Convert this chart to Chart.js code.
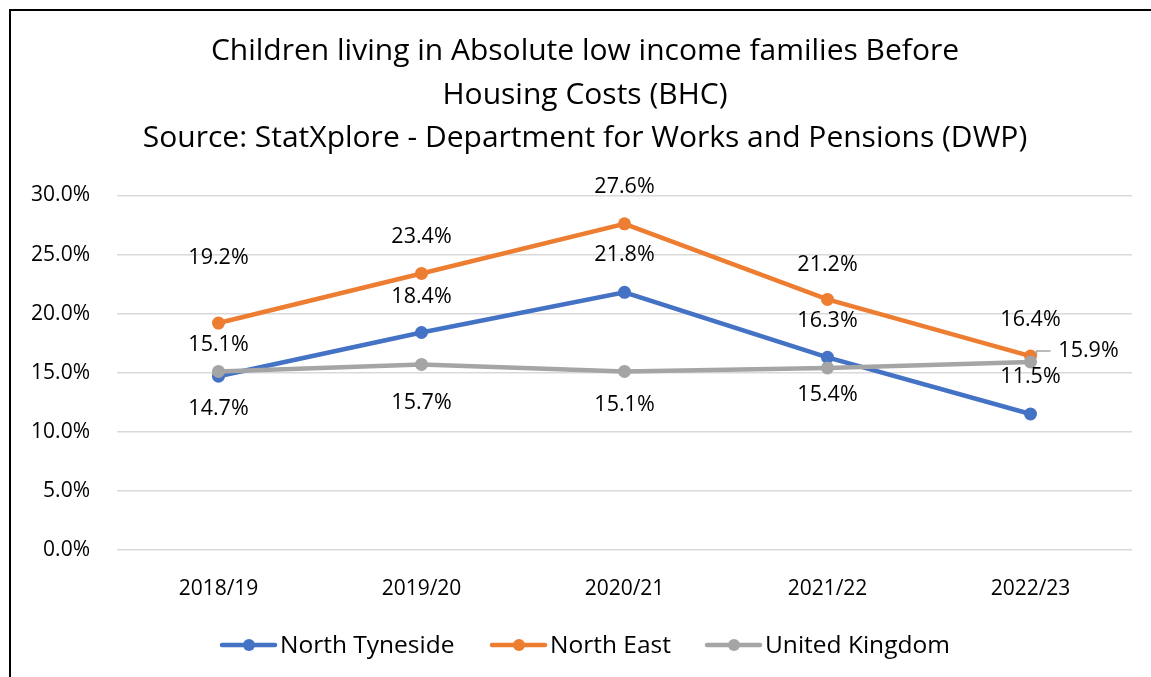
<!DOCTYPE html>
<html>
<head>
<meta charset="utf-8">
<script src="https://cdn.jsdelivr.net/npm/chart.js@4"></script>
<style>
  html, body { margin: 0; padding: 0; background: #fff; overflow: hidden; }
  #frame { position: absolute; left: 9px; top: 9px; width: 1200px; height: 720px; border: 2px solid #000; box-sizing: border-box; }
  #wrap { position: absolute; left: 0; top: 0; width: 1151px; height: 677px; }
</style>
</head>
<body>
<div id="frame"></div>
<div id="wrap"><canvas id="lowIncomeChart" width="1151" height="677"></canvas></div>
<script>
// 데이터
const years = ['2018/19', '2019/20', '2020/21', '2021/22', '2022/23'];
const northTyneside = [14.7, 18.4, 21.8, 16.3, 11.5];
const northEast = [19.2, 23.4, 27.6, 21.2, 16.4];
const unitedKingdom = [15.1, 15.7, 15.1, 15.4, 15.9];
const yTicks = [0, 5, 10, 15, 20, 25, 30];

const FONT = "'Open Sans', 'Noto Sans', sans-serif";

// 라벨 위치 (px offset from point)
const labelOffsets = [
    [[0, 33], [0, -36], [0, -37], [0, -36], [0, -37]],
    [[0, -65], [0, -37], [0, -37], [0, -35], [0, -36]],
    [[0, -27], [0, 38], [0, 33], [0, 27], [58, -11]]
];

// 제목 위치 보정 (가운데 정렬 기준 이동)
const titleShift = {
    id: 'titleShift',
    afterLayout(chart) {
        if (chart.titleBlock) {
            chart.titleBlock.left += 19;
            chart.titleBlock.right += 19;
        }
    }
};

// 데이터 라벨 플러그인
const pointLabels = {
    id: 'pointLabels',
    afterDatasetsDraw(chart) {
        const ctx = chart.ctx;
        ctx.save();
        ctx.font = '21.5px ' + FONT;
        ctx.fillStyle = '#000';
        ctx.textAlign = 'center';
        ctx.textBaseline = 'middle';
        chart.data.datasets.forEach((ds, i) => {
            chart.getDatasetMeta(i).data.forEach((pt, j) => {
                const off = labelOffsets[i][j];
                const x = pt.x + off[0];
                const y = pt.y + off[1];
                if (i === 2 && j === 4) {
                    // 지시선
                    ctx.strokeStyle = '#A5A5A5';
                    ctx.lineWidth = 1.5;
                    ctx.beginPath();
                    ctx.moveTo(pt.x + 20, y);
                    ctx.lineTo(pt.x + 6, y);
                    ctx.lineTo(pt.x + 6, pt.y - 6);
                    ctx.stroke();
                }
                ctx.fillText(ds.data[j].toFixed(1) + '%', x, y);
            });
        });
        ctx.restore();
    }
};

// 범례 플러그인
const lineLegend = {
    id: 'lineLegend',
    afterDraw(chart) {
        const ctx = chart.ctx;
        const items = [
            { text: 'North Tyneside', color: '#4472C4', x: 222 },
            { text: 'North East', color: '#ED7D31', x: 492 },
            { text: 'United Kingdom', color: '#A5A5A5', x: 707 }
        ];
        const y = 645;
        ctx.save();
        ctx.font = '24.5px ' + FONT;
        ctx.textBaseline = 'middle';
        ctx.textAlign = 'left';
        items.forEach(it => {
            ctx.strokeStyle = it.color;
            ctx.lineWidth = 4.5;
            ctx.lineCap = 'round';
            ctx.beginPath();
            ctx.moveTo(it.x, y);
            ctx.lineTo(it.x + 53, y);
            ctx.stroke();
            ctx.fillStyle = it.color;
            ctx.beginPath();
            ctx.arc(it.x + 27, y, 6, 0, Math.PI * 2);
            ctx.fill();
            ctx.fillStyle = '#000';
            ctx.fillText(it.text, it.x + 58, y + 1);
        });
        ctx.restore();
    }
};

function series(label, data, color, order) {
    return {
        label: label,
        data: data,
        borderColor: color,
        backgroundColor: color,
        borderWidth: 4.5,
        pointRadius: 6.5,
        pointHoverRadius: 6.5,
        pointBorderWidth: 0,
        tension: 0,
        order: order
    };
}

const ctx = document.getElementById('lowIncomeChart').getContext('2d');
const lowIncomeChart = new Chart(ctx, {
    type: 'line',
    data: {
        labels: years,
        datasets: [
            series('North Tyneside', northTyneside, '#4472C4', 3),
            series('North East', northEast, '#ED7D31', 2),
            series('United Kingdom', unitedKingdom, '#A5A5A5', 1)
        ]
    },
    options: {
        responsive: false,
        animation: false,
        devicePixelRatio: 1,
        layout: {
            padding: { left: 0, right: 19, top: 0, bottom: 56 }
        },
        scales: {
            x: {
                offset: true,
                grid: { display: false },
                border: { display: false },
                ticks: {
                    padding: 19,
                    color: '#000',
                    font: { family: FONT, size: 21 }
                }
            },
            y: {
                min: 0,
                max: 30,
                afterFit(scale) { scale.width = 117; },
                afterBuildTicks(scale) { scale.ticks = yTicks.map(v => ({ value: v })); },
                grid: {
                    color: '#D9D9D9',
                    lineWidth: 1.5,
                    drawTicks: false
                },
                border: { display: false },
                ticks: {
                    padding: 27,
                    color: '#000',
                    font: { family: FONT, size: 21 },
                    callback: function(value) {
                        return value.toFixed(1) + '%';
                    }
                }
            }
        },
        plugins: {
            legend: { display: false },
            tooltip: { enabled: false },
            title: {
                display: true,
                text: [
                    'Children living in Absolute low income families Before',
                    'Housing Costs (BHC)',
                    'Source: StatXplore - Department for Works and Pensions (DWP)'
                ],
                color: '#000',
                font: { family: FONT, size: 30, weight: 'normal', lineHeight: 1.45 },
                padding: { top: 30, bottom: 35 }
            }
        }
    },
    plugins: [titleShift, pointLabels, lineLegend]
});
</script>
</body>
</html>
